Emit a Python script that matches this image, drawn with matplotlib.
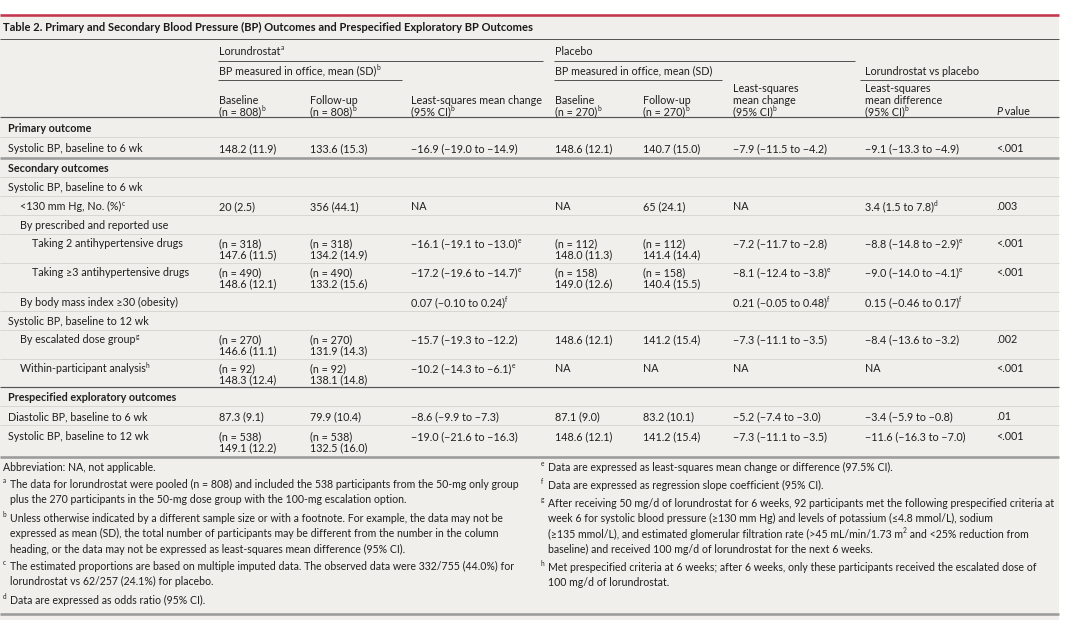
import matplotlib
matplotlib.use('Agg')
import matplotlib.pyplot as plt
from matplotlib import font_manager as fm
from matplotlib.font_manager import FontProperties
from matplotlib.patches import Rectangle

# ---------------- data ----------------
title = "Table 2. Primary and Secondary Blood Pressure (BP) Outcomes and Prespecified Exploratory BP Outcomes"

SUP = "\x01"   # marker: the next character is written as a superscript


def sup(c):
    return SUP + c


row_labels = [
    "Primary outcome",
    "Systolic BP, baseline to 6 wk",
    "Secondary outcomes",
    "Systolic BP, baseline to 6 wk",
    "<130 mm Hg, No. (%)" + sup("c"),
    "By prescribed and reported use",
    "Taking 2 antihypertensive drugs",
    "Taking ≥3 antihypertensive drugs",
    "By body mass index ≥30 (obesity)",
    "Systolic BP, baseline to 12 wk",
    "By escalated dose group" + sup("g"),
    "Within-participant analysis" + sup("h"),
    "Prespecified exploratory outcomes",
    "Diastolic BP, baseline to 6 wk",
    "Systolic BP, baseline to 12 wk",
]
row_indent = [0, 0, 0, 0, 1, 1, 2, 2, 1, 0, 1, 1, 0, 0, 0]
row_bold = [1, 0, 1, 0, 0, 0, 0, 0, 0, 0, 0, 0, 1, 0, 0]

lor_baseline = ["", "148.2 (11.9)", "", "", "20 (2.5)", "", "(n = 318)\n147.6 (11.5)",
                "(n = 490)\n148.6 (12.1)", "", "", "(n = 270)\n146.6 (11.1)",
                "(n = 92)\n148.3 (12.4)", "", "87.3 (9.1)", "(n = 538)\n149.1 (12.2)"]
lor_followup = ["", "133.6 (15.3)", "", "", "356 (44.1)", "", "(n = 318)\n134.2 (14.9)",
                "(n = 490)\n133.2 (15.6)", "", "", "(n = 270)\n131.9 (14.3)",
                "(n = 92)\n138.1 (14.8)", "", "79.9 (10.4)", "(n = 538)\n132.5 (16.0)"]
lor_change = ["", "−16.9 (−19.0 to −14.9)", "", "", "NA", "",
              "−16.1 (−19.1 to −13.0)" + sup("e"), "−17.2 (−19.6 to −14.7)" + sup("e"),
              "0.07 (−0.10 to 0.24)" + sup("f"), "", "−15.7 (−19.3 to −12.2)",
              "−10.2 (−14.3 to −6.1)" + sup("e"), "", "−8.6 (−9.9 to −7.3)",
              "−19.0 (−21.6 to −16.3)"]
plc_baseline = ["", "148.6 (12.1)", "", "", "NA", "", "(n = 112)\n148.0 (11.3)",
                "(n = 158)\n149.0 (12.6)", "", "", "148.6 (12.1)", "NA", "",
                "87.1 (9.0)", "148.6 (12.1)"]
plc_followup = ["", "140.7 (15.0)", "", "", "65 (24.1)", "", "(n = 112)\n141.4 (14.4)",
                "(n = 158)\n140.4 (15.5)", "", "", "141.2 (15.4)", "NA", "",
                "83.2 (10.1)", "141.2 (15.4)"]
plc_change = ["", "−7.9 (−11.5 to −4.2)", "", "", "NA", "", "−7.2 (−11.7 to −2.8)",
              "−8.1 (−12.4 to −3.8)" + sup("e"), "0.21 (−0.05 to 0.48)" + sup("f"), "",
              "−7.3 (−11.1 to −3.5)", "NA", "", "−5.2 (−7.4 to −3.0)",
              "−7.3 (−11.1 to −3.5)"]
lor_vs_plc = ["", "−9.1 (−13.3 to −4.9)", "", "", "3.4 (1.5 to 7.8)" + sup("d"), "",
              "−8.8 (−14.8 to −2.9)" + sup("e"), "−9.0 (−14.0 to −4.1)" + sup("e"),
              "0.15 (−0.46 to 0.17)" + sup("f"), "", "−8.4 (−13.6 to −3.2)", "NA", "",
              "−3.4 (−5.9 to −0.8)", "−11.6 (−16.3 to −7.0)"]
p_values = ["", "<.001", "", "", ".003", "", "<.001", "<.001", "", "", ".002", "<.001",
            "", ".01", "<.001"]

header_cols = [
    "Baseline\n(n = 808)" + sup("b"),
    "Follow-up\n(n = 808)" + sup("b"),
    "Least-squares mean change\n(95% CI)" + sup("b"),
    "Baseline\n(n = 270)" + sup("b"),
    "Follow-up\n(n = 270)" + sup("b"),
    "Least-squares\nmean change\n(95% CI)" + sup("b"),
    "Least-squares\nmean difference\n(95% CI)" + sup("b"),
    "P value",
]

notes_left = [
    ("", ["Abbreviation: NA, not applicable."]),
    ("a", ["The data for lorundrostat were pooled (n = 808) and included the 538 participants from the 50-mg only group",
           "plus the 270 participants in the 50-mg dose group with the 100-mg escalation option."]),
    ("b", ["Unless otherwise indicated by a different sample size or with a footnote. For example, the data may not be",
           "expressed as mean (SD), the total number of participants may be different from the number in the column",
           "heading, or the data may not be expressed as least-squares mean difference (95% CI)."]),
    ("c", ["The estimated proportions are based on multiple imputed data. The observed data were 332/755 (44.0%) for",
           "lorundrostat vs 62/257 (24.1%) for placebo."]),
    ("d", ["Data are expressed as odds ratio (95% CI)."]),
]
notes_right = [
    ("e", ["Data are expressed as least-squares mean change or difference (97.5% CI)."]),
    ("f", ["Data are expressed as regression slope coefficient (95% CI)."]),
    ("g", ["After receiving 50 mg/d of lorundrostat for 6 weeks, 92 participants met the following prespecified criteria at",
           "week 6 for systolic blood pressure (≥130 mm Hg) and levels of potassium (≤4.8 mmol/L), sodium",
           "(≥135 mmol/L), and estimated glomerular filtration rate (>45 mL/min/1.73 m" + sup("2") + " and <25% reduction from",
           "baseline) and received 100 mg/d of lorundrostat for the next 6 weeks."]),
    ("h", ["Met prespecified criteria at 6 weeks; after 6 weeks, only these participants received the escalated dose of",
           "100 mg/d of lorundrostat."]),
]

# ---------------- fonts ----------------
names = {f.name for f in fm.fontManager.ttflist}


def pick(cands):
    for c in cands:
        if c in names:
            return c
    return 'DejaVu Sans'


BODY = pick(['Liberation Sans Narrow', 'Lato', 'Roboto'])
NOTE = pick(['Lato', 'Open Sans', 'Noto Sans'])

DPI = 100
fig = plt.figure(figsize=(10.8, 6.28), dpi=DPI)
fig.patch.set_facecolor('white')
renderer = fig.canvas.get_renderer()


def width_px(s, family, size, weight='normal', style='normal'):
    if not s:
        return 0.0
    fp = FontProperties(family=family, weight=weight, style=style, size=size)
    w, h, d = renderer.get_text_width_height_descent(s, fp, ismath=False)
    return w


def fit(sample, family, target_px, weight='normal'):
    return 10 * target_px / width_px(sample, family, 10, weight)


BFS = fit("Systolic BP, baseline to 6 wk", BODY, 134)
TFS = fit(title, BODY, 528, 'bold')
NFS = fit(notes_left[1][1][0], NOTE, 506)

TXT = '#1f1f1f'
DARK = '#555555'
LIGHT = '#d8d7d2'
THICK = '#9c9c9c'
RED = '#c3374f'
BG = '#f0efeb'

ax = fig.add_axes([0, 0, 1, 1])
ax.set_xlim(0, 1080)
ax.set_ylim(628, 0)
ax.axis('off')

RIGHT = 1059
ax.add_patch(Rectangle((0, 15), RIGHT, 605, facecolor=BG, edgecolor='none', zorder=0))


def put(x, yc, s, fs=None, family=None, weight='normal', color=TXT, style='normal'):
    """Write one line; a character after SUP is drawn as a small raised letter."""
    fs = BFS if fs is None else fs
    family = BODY if family is None else family
    px = fs * DPI / 72
    base = yc + 0.34 * px
    parts = s.split(SUP)
    runs = [(parts[0], False)]
    for p in parts[1:]:
        runs.append((p[:1], True))
        if p[1:]:
            runs.append((p[1:], False))
    cx = x
    for txt, is_sup in runs:
        if not txt:
            continue
        size = fs * 0.62 if is_sup else fs
        y = base - 0.40 * px if is_sup else base
        ax.text(cx, y, txt, fontsize=size, fontfamily=family, fontweight=weight,
                fontstyle=style, color=color, ha='left', va='baseline', zorder=3)
        cx += width_px(txt, family, size, weight, style) + (0.4 if is_sup else 0)


def hline(y, x0, x1, color, lw_px):
    ax.plot([x0, x1], [y, y], color=color, lw=lw_px * 72 / DPI, solid_capstyle='butt', zorder=2)


# title
hline(15, 0, RIGHT, RED, 2.6)
put(3, 27, title, fs=TFS, weight='bold', color='#1a1a1a')
hline(38.5, 0, RIGHT, DARK, 1)

# group headers
put(219, 51, "Lorundrostat" + sup("a"))
put(555, 51, "Placebo")
hline(60.5, 218, 543, DARK, 1)
hline(60.5, 554, 855, DARK, 1)
put(219, 71, "BP measured in office, mean (SD)" + sup("b"))
put(555, 71, "BP measured in office, mean (SD)")
put(865, 71, "Lorundrostat vs placebo")
hline(80, 218, 402, DARK, 1)
hline(80, 554, 722, DARK, 1)
hline(80, 860, RIGHT, DARK, 1)

col_x = [219, 310, 411, 555, 643, 733, 865, 996]
HPITCH = 11.5
for x, h in zip(col_x, header_cols[:-1]):
    lines = h.split('\n')
    n = len(lines)
    for k, ln in enumerate(lines):
        put(x, 111.5 - (n - 1 - k) * HPITCH, ln)
# P value header with italic P
pv_first, pv_rest = header_cols[-1][:1], header_cols[-1][1:]
put(col_x[-1], 111.5, pv_first, style='italic')
put(col_x[-1] + width_px(pv_first, BODY, BFS, style='italic'), 111.5, pv_rest)

# body
PITCH = 11
row_edges = [117, 137, 158, 176.5, 195.5, 214.5, 233.5, 262.5, 291.5, 310.5, 329.5,
             358.5, 387, 405.5, 424.5, 457]
indent_x = [8, 20, 32]
columns = [lor_baseline, lor_followup, lor_change, plc_baseline, plc_followup,
           plc_change, lor_vs_plc, p_values]

for i, lab in enumerate(row_labels):
    top, bot = row_edges[i], row_edges[i + 1]
    mid = (top + bot) / 2 + 1.3
    nmax = max(len(c[i].split('\n')) for c in columns)
    first = mid - (nmax - 1) / 2 * PITCH
    put(indent_x[row_indent[i]], first, lab, weight='bold' if row_bold[i] else 'normal')
    for col, x in zip(columns, col_x):
        if not col[i]:
            continue
        for k, ln in enumerate(col[i].split('\n')):
            put(x, first + k * PITCH, ln)

for j, y in enumerate(row_edges):
    if j == 0:
        hline(y, 0, RIGHT, DARK, 1.2)
    elif j in (2, len(row_edges) - 1):
        hline(y, 0, RIGHT, THICK, 2.6)
    elif j == 12:
        hline(y, 0, RIGHT, DARK, 1.2)
    else:
        hline(y, 0, RIGHT, LIGHT, 1)


# footnotes
def notes(block, xs, xt, ys):
    for (letter, lines), y0 in zip(block, ys):
        x = xs
        if letter:
            put(xs - 0.5, y0, sup(letter), fs=NFS, family=NOTE)
            x = xt
        for k, ln in enumerate(lines):
            put(x, y0 + k * 15.5, ln, fs=NFS, family=NOTE)


notes(notes_left, 3, 9.5, [467, 484, 518, 566, 600])
notes(notes_right, 541, 547.5, [467, 485, 503, 567])
hline(614, 0, RIGHT, THICK, 2.6)

fig.savefig('out.png', dpi=DPI, facecolor='white')
